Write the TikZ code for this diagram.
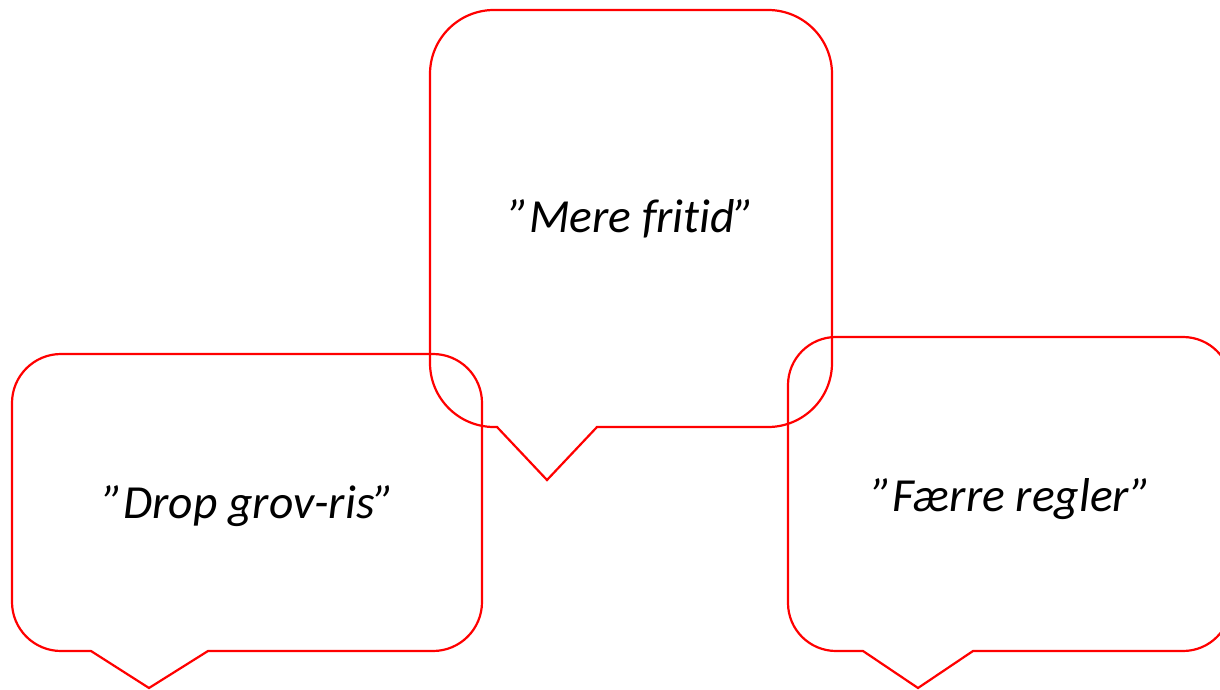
\documentclass[tikz,border=0pt]{standalone}
\usepackage{fontspec}
\setmainfont[Ligatures=NoCommon]{Carlito}
\tikzset{
  bubble/.style={draw={rgb,255:red,255;green,0;blue,0}, line width=2.2pt, line join=miter},
  quote/.style={font=\fontsize{47.5}{52}\selectfont\itshape, anchor=base, inner sep=0pt, text=black}
}
\begin{document}
\begin{tikzpicture}[x=1pt,y=1pt]
\useasboundingbox (0,0) rectangle (1220,689);
% top bubble
\draw[bubble] (597,262) -- (768,262) arc[start angle=270,end angle=360,radius=64]
  -- (832,615) arc[start angle=0,end angle=90,radius=64]
  -- (494,679) arc[start angle=90,end angle=180,radius=64]
  -- (430,326) arc[start angle=180,end angle=270,radius=64]
  -- (497,262) -- (547,209) -- cycle;
% left bubble
\draw[bubble] (208,38) -- (433,38) arc[start angle=270,end angle=360,radius=49]
  -- (482,286) arc[start angle=0,end angle=90,radius=49]
  -- (61,335) arc[start angle=90,end angle=180,radius=49]
  -- (12,87) arc[start angle=180,end angle=270,radius=49]
  -- (91,38) -- (149,1) -- cycle;
% right bubble
\draw[bubble] (973,38) -- (1183,38) arc[start angle=270,end angle=360,radius=48]
  -- (1231,304) arc[start angle=0,end angle=90,radius=48]
  -- (836,352) arc[start angle=90,end angle=180,radius=48]
  -- (788,86) arc[start angle=180,end angle=270,radius=48]
  -- (863,38) -- (918,1) -- cycle;
\node[quote] (mere) at (632,456) {”Mere fritid”};
\node[quote] (drop) at (249,171) {”Drop grov-ris”};
\node[quote] (faerre) at (1012,178) {”Færre regler”};
\end{tikzpicture}
\end{document}
